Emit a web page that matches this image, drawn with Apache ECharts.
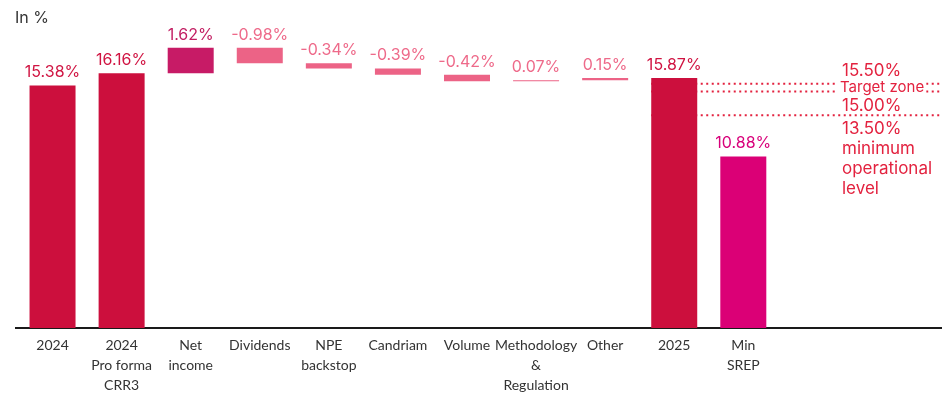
<!DOCTYPE html>
<html>
<head>
<meta charset="utf-8">
<script src="https://cdn.jsdelivr.net/npm/echarts@6/dist/echarts.min.js"></script>
<style>
  html, body { margin: 0; padding: 0; background: #ffffff; }
  #chart { width: 942px; height: 395px; }
</style>
</head>
<body>
<div id="chart"></div>
<script>
// Capital ratio bridge, in %
const categories = [
  '2024', '2024\nPro forma\nCRR3', 'Net\nincome', 'Dividends', 'NPE\nbackstop',
  'Candriam', 'Volume', 'Methodology\n&\nRegulation', 'Other', '2025', 'Min\nSREP'
];
// 'total' bars stand on the axis; 'delta' bars float on the running level
const kinds = ['total', 'total', 'delta', 'delta', 'delta', 'delta', 'delta', 'delta', 'delta', 'total', 'total'];
const values = [15.38, 16.16, 1.62, -0.98, -0.34, -0.39, -0.42, 0.07, 0.15, 15.87, 10.88];

const barColors = ['#CC0F3D', '#CC0F3D', '#C71B66', '#EC6386', '#EC6386', '#EC6386', '#EC6386', '#EC6386', '#EC6386', '#CC0F3D', '#DB0076'];
const labelColors = ['#D01442', '#D01442', '#C21E62', '#EE6A8A', '#EE6A8A', '#EE6A8A', '#EE6A8A', '#EE6A8A', '#EE6A8A', '#D01442', '#D8007A'];

// Target zone and minimum operational level
const targetUpper = 15.50;
const targetLower = 15.00;
const minOperational = 13.50;
const zoneTexts = ['15.50%', 'Target zone', '15.00%', '13.50%\nminimum\noperational\nlevel'];

// Build invisible bases and visible segments for the waterfall
const bases = [];
const heights = [];
let level = 0;
values.forEach((v, i) => {
  if (kinds[i] === 'total') {
    bases.push(0);
    heights.push(v);
    level = v;
  } else {
    bases.push(Math.min(level, level + v));
    heights.push(Math.abs(v));
    level += v;
  }
});

const axisCategories = categories.concat(['', '']);
const fmt = v => v.toFixed(2) + '%';
const red = '#E3223F';
const labelFont = 'Inter, "Open Sans", sans-serif';

const chart = echarts.init(document.getElementById('chart'), null, { renderer: 'canvas' });

const option = {
  animation: false,
  backgroundColor: '#ffffff',
  grid: { left: 18, right: 26, top: 12.8, bottom: 65 },
  xAxis: {
    type: 'category',
    data: axisCategories,
    axisLine: { show: false },
    axisTick: { show: false },
    axisLabel: {
      interval: 0,
      margin: 7,
      color: '#333333',
      fontFamily: 'Lato, "Open Sans", sans-serif',
      fontSize: 14,
      lineHeight: 20
    }
  },
  yAxis: {
    type: 'value',
    min: 0,
    max: 20,
    show: false,
    splitLine: { show: false }
  },
  series: [
    {
      type: 'bar',
      stack: 'bridge',
      barWidth: 46,
      itemStyle: { color: 'transparent' },
      emphasis: { disabled: true },
      data: bases
    },
    {
      type: 'bar',
      stack: 'bridge',
      barWidth: 46,
      emphasis: { disabled: true },
      data: heights.map((h, i) => ({
        value: h,
        itemStyle: { color: barColors[i] },
        label: {
          show: true,
          position: 'top',
          distance: 5,
          formatter: fmt(values[i]),
          color: labelColors[i],
          fontFamily: labelFont,
          fontSize: 16,
          fontWeight: 400
        }
      }))
    }
  ]
};

chart.setOption(option);

// Decorations placed through the chart's own scales
const yOf = v => chart.convertToPixel({ yAxisIndex: 0 }, v);
const x2025 = chart.convertToPixel({ xAxisIndex: 0 }, '2025');
const xStart = x2025 - 23;
const axisY = yOf(0);
const yUp = yOf(targetUpper);
const yLow = yOf(targetLower);
const yMin = yOf(minOperational);
const textX = 842;

const dotted = y => ({
  type: 'line',
  shape: { x1: xStart, y1: y, x2: 942, y2: y },
  style: { stroke: red, lineWidth: 2, lineDash: [2, 3.5] },
  silent: true,
  z: 1
});
const note = (txt, y, vAlign, extra) => ({
  type: 'text',
  x: textX,
  y: y,
  z: 2,
  style: Object.assign({
    text: txt,
    fill: red,
    font: '17px ' + labelFont,
    textVerticalAlign: vAlign,
    lineHeight: 20
  }, extra || {}),
  silent: true
});

chart.setOption({
  graphic: [
    {
      type: 'line',
      shape: { x1: 15, y1: axisY, x2: 942, y2: axisY },
      style: { stroke: '#1a1a1a', lineWidth: 2 },
      silent: true
    },
    {
      type: 'text',
      x: 15,
      y: 18,
      style: { text: 'In %', fill: '#333333', font: '16px ' + labelFont, textVerticalAlign: 'middle' },
      silent: true
    },
    dotted(yUp),
    dotted(yLow),
    dotted(yMin),
    note(zoneTexts[0], yUp - 3, 'bottom'),
    Object.assign(
      note(zoneTexts[1], (yUp + yLow) / 2, 'middle', { font: '15px ' + labelFont, backgroundColor: '#ffffff', padding: [0, 2] }),
      { x: textX - 4 }
    ),
    note(zoneTexts[2], yLow + 4, 'top'),
    note(zoneTexts[3], yMin + 4, 'top')
  ]
});
</script>
</body>
</html>
